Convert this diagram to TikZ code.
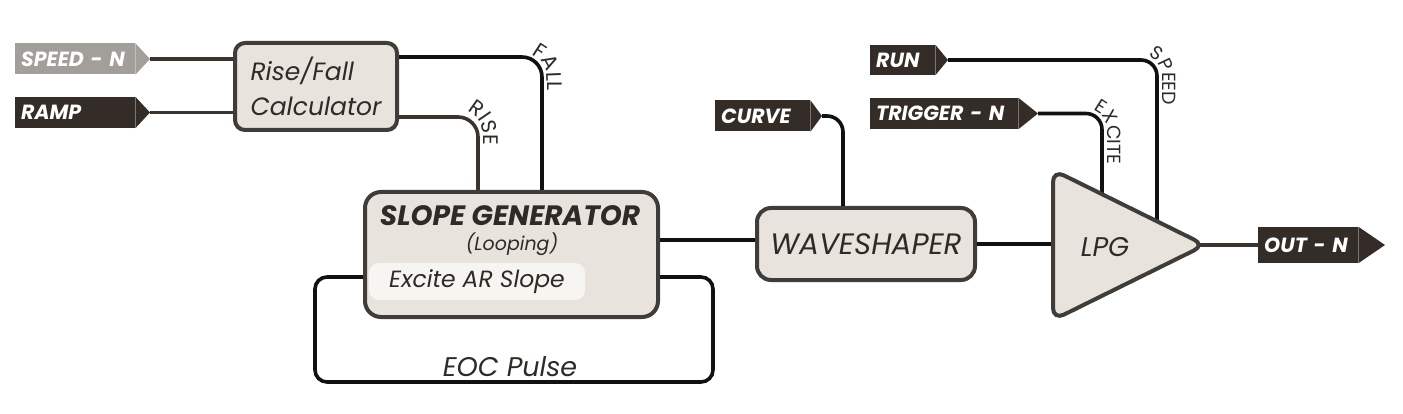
\documentclass[tikz,border=0pt]{standalone}
\usepackage{fontspec}
\setmainfont{Poppins}
\usetikzlibrary{shapes.geometric,calc,decorations.text}
\definecolor{tagdark}{HTML}{342D27}
\definecolor{taggray}{HTML}{A29E9A}
\definecolor{boxfill}{HTML}{E9E3DD}
\definecolor{boxline}{HTML}{3F3C39}
\definecolor{innerfill}{HTML}{F7F5F2}
\definecolor{ink}{HTML}{2E2A26}
\definecolor{wire}{HTML}{111111}
\definecolor{wirebrown}{HTML}{3A342D}
\pgfdeclarelayer{bg}
\pgfsetlayers{bg,main}
\begin{document}
\begin{tikzpicture}[x=1pt,y=1pt,
  tagbox/.style={fill=tagdark, text=white, font=\fontsize{20.5}{24}\selectfont\bfseries\itshape,
    anchor=west, inner xsep=6pt, inner ysep=0pt, minimum height=31pt, align=left,
    text height=15pt, text depth=0pt},
  block/.style={draw=boxline, line width=4pt, fill=boxfill, rounded corners=10pt, text=ink},
  wireline/.style={draw=wire, line width=3.6pt},
  brownline/.style={draw=wirebrown, line width=3.6pt},
  lbl/.style={text=ink},
]
\useasboundingbox (0,0) rectangle (1403,-414);

% ---------- tags ----------
\node[tagbox, fill=taggray, text width=108pt] (speed) at (15,-59) {SPEED - N};
\fill[taggray] (speed.north east) -- (150,-59) -- (speed.south east) -- cycle;
\coordinate (speed-tip) at (150,-59);

\node[tagbox, text width=108pt] (ramp) at (15,-112.5) {RAMP};
\fill[tagdark] (ramp.north east) -- (150,-112.5) -- (ramp.south east) -- cycle;
\coordinate (ramp-tip) at (150,-112.5);

\node[tagbox, text width=83pt] (curve) at (715,-116) {CURVE};
\fill[tagdark] (curve.north east) -- (822,-116) -- (curve.south east) -- cycle;
\coordinate (curve-tip) at (822,-116);

\node[tagbox, text width=53pt, minimum height=30pt] (run) at (870,-60) {RUN};
\fill[tagdark] (run.north east) -- (948,-60) -- (run.south east) -- cycle;
\coordinate (run-tip) at (948,-60);

\node[tagbox, text width=136pt] (trigger) at (870,-113.5) {TRIGGER - N};
\fill[tagdark] (trigger.north east) -- (1038,-113.5) -- (trigger.south east) -- cycle;
\coordinate (trigger-tip) at (1038,-113.5);

\node[tagbox, text width=88pt, minimum height=36pt] (out) at (1258,-245) {OUT - N};
\fill[tagdark] (out.north east) -- (1385,-245) -- (out.south east) -- cycle;

% ---------- blocks ----------
\node[block, minimum width=162pt, minimum height=87pt, align=left,
  font=\fontsize{25}{35}\selectfont\itshape] (rf) at (316,-86.5) {Rise/Fall\\Calculator};

\node[block, rounded corners=16pt, minimum width=293pt, minimum height=125pt] (slope) at (511.5,-254.5) {};
\node[lbl, font=\fontsize{28}{28}\selectfont\bfseries\itshape] (sgtitle) at (510,-216) {SLOPE GENERATOR};
\node[lbl, font=\fontsize{19}{19}\selectfont\itshape] (sgloop) at (512,-244) {(Looping)};
\node[fill=innerfill, rounded corners=10pt, minimum width=216pt, minimum height=37pt, text=ink,
  font=\fontsize{23.5}{23.5}\selectfont\itshape] (excite) at (477,-281.5) {Excite AR Slope};

\node[block, rounded corners=14pt, minimum width=218pt, minimum height=72pt,
  font=\fontsize{29.5}{29.5}\selectfont\itshape] (ws) at (866,-244) {WAVESHAPER};

\node[isosceles triangle, isosceles triangle stretches, minimum width=150pt, minimum height=152pt,
  anchor=west, draw=boxline, line width=4pt, fill=boxfill, rounded corners=12pt, inner sep=0pt] (lpg) at (1051,-245) {};
\node[lbl, font=\fontsize{27}{27}\selectfont\itshape] (lpgtext) at (1105,-247) {LPG};

% ---------- connectors ----------
\draw[brownline] (speed-tip) -- (speed-tip -| rf.west);
\draw[brownline] (ramp-tip) -- (ramp-tip -| rf.west);
\draw[wireline, rounded corners=20pt] ([yshift=29.5pt]rf.east) -| ([xshift=30.5pt]slope.north);
\draw[brownline, rounded corners=20pt] ([yshift=-30.5pt]rf.east) -| ([xshift=-33.5pt]slope.north);

\draw[wireline] ([yshift=14.5pt]slope.east) -- ([yshift=14.5pt]slope.east -| ws.west);

\coordinate (eocR) at (713,-382);
\coordinate (eocL) at (315,-382);
\draw[wireline, rounded corners=12pt] ([yshift=-22.5pt]slope.east) -| (eocR) -- (eocL) |- ([yshift=-22.5pt]slope.west);
\node[lbl, font=\fontsize{27}{27}\selectfont\itshape, anchor=base] (eoc) at (510,-376) {EOC Pulse};

\draw[wireline, rounded corners=16pt] (curve-tip) -| ([xshift=-23pt]ws.north);
\draw[wireline] (ws.east) -- (ws.east -| lpg.west);

\begin{pgfonlayer}{bg}
\draw[wireline, rounded corners=16pt] (trigger-tip) -| ([xshift=51pt]lpg.west);
\draw[wireline, rounded corners=16pt] (run-tip) -| ([xshift=106pt]lpg.west);
\draw[brownline] ([xshift=-20pt]lpg.east) -- (out.west);
\end{pgfonlayer}

% ---------- curved labels ----------
\path[decorate, decoration={text along path, text align={left indent=9pt},
  text={|\fontsize{21}{21}\selectfont\color{ink}|FALL}}]
  (522,-53) arc[start angle=90, end angle=0, radius=25] -- (547,-130);
\path[decorate, decoration={text along path, text align={left indent=9pt},
  text={|\fontsize{21}{21}\selectfont\color{ink}|RISE}}]
  (458,-110) arc[start angle=90, end angle=0, radius=25] -- (483,-180);
\path[decorate, decoration={text along path, text align={left indent=7pt},
  text={|\fontsize{19}{19}\selectfont\color{ink}|EXCITE}}]
  (1086,-108.5) arc[start angle=90, end angle=0, radius=21] -- (1107,-190);
\path[decorate, decoration={text along path, text align={left indent=7pt},
  text={|\fontsize{19}{19}\selectfont\color{ink}|SPEED}}]
  (1141,-55) arc[start angle=90, end angle=0, radius=21] -- (1162,-140);
\end{tikzpicture}
\end{document}
